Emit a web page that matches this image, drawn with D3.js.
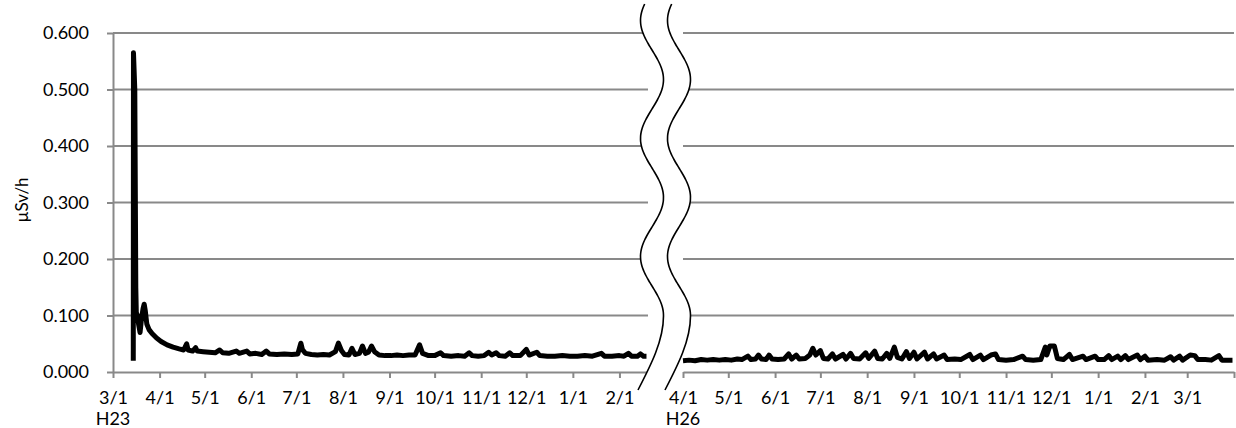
<!DOCTYPE html>
<html>
<head>
<meta charset="utf-8">
<script src="https://cdn.jsdelivr.net/npm/d3@7"></script>
<style>
  body { margin: 0; background: #fff; }
  svg { display: block; font-family: Lato, 'Open Sans', sans-serif; }
</style>
</head>
<body>
<svg id="chart" width="1236" height="428"></svg>
<script>
// ---- data ----
const yTicks = [0, 0.1, 0.2, 0.3, 0.4, 0.5, 0.6];
const yTitle = 'µSv/h';
const eraLabels = ['H23', 'H26'];
const h23Domain = ['2011-03-01', '2012-02-20'];
const h26Domain = ['2014-04-01', '2015-04-01'];

// H23 (2011-03 .. 2012-02), date [+ hour], µSv/h
const h23Series = [
  ['2011-03-14 12', 0.020], ['2011-03-14 15', 0.565], ['2011-03-15 12', 0.500],
  ['2011-03-16 04', 0.150], ['2011-03-16 12', 0.105], ['2011-03-17 06', 0.100],
  ['2011-03-18', 0.085], ['2011-03-19', 0.070], ['2011-03-20', 0.095],
  ['2011-03-21', 0.112], ['2011-03-21 18', 0.120], ['2011-03-22 12', 0.108],
  ['2011-03-23 12', 0.085], ['2011-03-25', 0.075], ['2011-03-27', 0.068],
  ['2011-03-30', 0.060], ['2011-04-02', 0.054], ['2011-04-06', 0.048],
  ['2011-04-10', 0.044], ['2011-04-14', 0.041], ['2011-04-17', 0.039],
  ['2011-04-19', 0.050], ['2011-04-20', 0.039], ['2011-04-23', 0.037],
  ['2011-04-25', 0.043], ['2011-04-26', 0.037], ['2011-04-30', 0.036],
  ['2011-05-04', 0.035], ['2011-05-08', 0.034], ['2011-05-11', 0.039],
  ['2011-05-13', 0.034], ['2011-05-17', 0.033], ['2011-05-22', 0.037],
  ['2011-05-24', 0.033], ['2011-05-29', 0.037], ['2011-05-31', 0.032],
  ['2011-06-04', 0.033], ['2011-06-08', 0.031], ['2011-06-11', 0.037],
  ['2011-06-13', 0.032], ['2011-06-18', 0.031], ['2011-06-23', 0.032],
  ['2011-06-28', 0.031], ['2011-07-02', 0.032], ['2011-07-04', 0.051],
  ['2011-07-05', 0.040], ['2011-07-07', 0.033], ['2011-07-11', 0.031],
  ['2011-07-15', 0.030], ['2011-07-19', 0.031], ['2011-07-23', 0.030],
  ['2011-07-27', 0.036], ['2011-07-29', 0.051], ['2011-07-31', 0.038],
  ['2011-08-02', 0.031], ['2011-08-05', 0.030], ['2011-08-07', 0.042],
  ['2011-08-09', 0.031], ['2011-08-12', 0.033], ['2011-08-14', 0.046],
  ['2011-08-16', 0.033], ['2011-08-18', 0.035], ['2011-08-20', 0.046],
  ['2011-08-22', 0.036], ['2011-08-25', 0.030], ['2011-08-29', 0.029],
  ['2011-09-02', 0.029], ['2011-09-06', 0.030], ['2011-09-10', 0.029],
  ['2011-09-14', 0.030], ['2011-09-18', 0.030], ['2011-09-21', 0.048],
  ['2011-09-23', 0.033], ['2011-09-27', 0.029], ['2011-10-01', 0.029],
  ['2011-10-05', 0.034], ['2011-10-07', 0.029], ['2011-10-12', 0.028],
  ['2011-10-17', 0.029], ['2011-10-21', 0.028], ['2011-10-24', 0.034],
  ['2011-10-26', 0.029], ['2011-10-30', 0.028], ['2011-11-03', 0.029],
  ['2011-11-06', 0.035], ['2011-11-08', 0.030], ['2011-11-11', 0.034],
  ['2011-11-13', 0.029], ['2011-11-17', 0.028], ['2011-11-20', 0.034],
  ['2011-11-22', 0.029], ['2011-11-27', 0.029], ['2011-12-01', 0.040],
  ['2011-12-03', 0.030], ['2011-12-08', 0.035], ['2011-12-10', 0.029],
  ['2011-12-15', 0.028], ['2011-12-20', 0.028], ['2011-12-25', 0.029],
  ['2011-12-30', 0.028], ['2012-01-04', 0.028], ['2012-01-09', 0.029],
  ['2012-01-14', 0.028], ['2012-01-20', 0.033], ['2012-01-22', 0.028],
  ['2012-01-27', 0.028], ['2012-02-01', 0.029], ['2012-02-04', 0.028],
  ['2012-02-07', 0.033], ['2012-02-09', 0.028], ['2012-02-13', 0.028],
  ['2012-02-15', 0.032], ['2012-02-17', 0.028], ['2012-02-19', 0.028]
];

// H26 (2014-04 .. 2015-03)
const h26Series = [
  ['2014-04-01', 0.020], ['2014-04-05', 0.021], ['2014-04-09', 0.020],
  ['2014-04-13', 0.022], ['2014-04-17', 0.021], ['2014-04-21', 0.022],
  ['2014-04-25', 0.021], ['2014-04-29', 0.022], ['2014-05-03', 0.021],
  ['2014-05-07', 0.023], ['2014-05-10', 0.022], ['2014-05-14', 0.028],
  ['2014-05-16', 0.022], ['2014-05-19', 0.023], ['2014-05-21', 0.030],
  ['2014-05-23', 0.023], ['2014-05-26', 0.022], ['2014-05-28', 0.030],
  ['2014-05-30', 0.023], ['2014-06-03', 0.022], ['2014-06-07', 0.023],
  ['2014-06-10', 0.032], ['2014-06-12', 0.023], ['2014-06-15', 0.030],
  ['2014-06-17', 0.023], ['2014-06-21', 0.024], ['2014-06-24', 0.030],
  ['2014-06-26', 0.042], ['2014-06-28', 0.030], ['2014-07-01', 0.038],
  ['2014-07-03', 0.024], ['2014-07-06', 0.023], ['2014-07-09', 0.032],
  ['2014-07-11', 0.023], ['2014-07-16', 0.031], ['2014-07-18', 0.023],
  ['2014-07-21', 0.033], ['2014-07-23', 0.024], ['2014-07-27', 0.023],
  ['2014-07-31', 0.034], ['2014-08-02', 0.024], ['2014-08-06', 0.037],
  ['2014-08-08', 0.024], ['2014-08-11', 0.023], ['2014-08-14', 0.033],
  ['2014-08-16', 0.024], ['2014-08-19', 0.044], ['2014-08-21', 0.026],
  ['2014-08-24', 0.023], ['2014-08-27', 0.036], ['2014-08-29', 0.024],
  ['2014-09-01', 0.035], ['2014-09-03', 0.023], ['2014-09-08', 0.035],
  ['2014-09-10', 0.023], ['2014-09-14', 0.032], ['2014-09-16', 0.023],
  ['2014-09-21', 0.030], ['2014-09-23', 0.022], ['2014-09-28', 0.023],
  ['2014-10-02', 0.022], ['2014-10-08', 0.031], ['2014-10-10', 0.022],
  ['2014-10-15', 0.030], ['2014-10-17', 0.022], ['2014-10-22', 0.030],
  ['2014-10-25', 0.032], ['2014-10-27', 0.022], ['2014-11-01', 0.021],
  ['2014-11-06', 0.022], ['2014-11-12', 0.028], ['2014-11-14', 0.022],
  ['2014-11-19', 0.021], ['2014-11-24', 0.022], ['2014-11-27', 0.044],
  ['2014-11-28', 0.030], ['2014-11-30', 0.046], ['2014-12-03', 0.046],
  ['2014-12-05', 0.024], ['2014-12-09', 0.022], ['2014-12-13', 0.031],
  ['2014-12-15', 0.022], ['2014-12-22', 0.028], ['2014-12-24', 0.022],
  ['2014-12-30', 0.028], ['2015-01-01', 0.022], ['2015-01-05', 0.022],
  ['2015-01-08', 0.029], ['2015-01-10', 0.022], ['2015-01-14', 0.028],
  ['2015-01-16', 0.022], ['2015-01-19', 0.029], ['2015-01-21', 0.022],
  ['2015-01-27', 0.030], ['2015-01-29', 0.022], ['2015-02-01', 0.028],
  ['2015-02-03', 0.021], ['2015-02-09', 0.022], ['2015-02-14', 0.021],
  ['2015-02-18', 0.027], ['2015-02-20', 0.021], ['2015-02-24', 0.028],
  ['2015-02-26', 0.021], ['2015-03-03', 0.030], ['2015-03-06', 0.029],
  ['2015-03-08', 0.022], ['2015-03-13', 0.022], ['2015-03-17', 0.021],
  ['2015-03-22', 0.029], ['2015-03-24', 0.021], ['2015-03-28', 0.021],
  ['2015-03-31', 0.021]
];

// ---- layout ----
const svg = d3.select('#chart');
const gridColor = '#898989';
const fontSize = '18px';
const plotTop = 33, plotBottom = 372;
const leftPanel = [113, 648], rightPanel = [683, 1234];

const parseDay = d3.timeParse('%Y-%m-%d');
const parseHour = d3.timeParse('%Y-%m-%d %H');
function toDate(s) { return s.length > 10 ? parseHour(s) : parseDay(s); }
function toPoints(series) { return series.map(d => ({ date: toDate(d[0]), value: d[1] })); }

const y = d3.scaleLinear().domain([0, 0.6]).range([plotBottom, plotTop]);
const xLeft = d3.scaleTime().domain(h23Domain.map(toDate)).range(leftPanel);
const xRight = d3.scaleTime().domain(h26Domain.map(toDate)).range(rightPanel);

// gridlines per panel
function drawGrid(range) {
  svg.append('g').selectAll('line')
    .data(yTicks.filter(t => t > 0))
    .enter().append('line')
    .attr('x1', range[0]).attr('x2', range[1])
    .attr('y1', d => y(d)).attr('y2', d => y(d))
    .attr('stroke', gridColor).attr('stroke-width', 2);
}
drawGrid(leftPanel);
drawGrid(rightPanel);

// y axis
const yAxis = svg.append('g')
  .attr('transform', `translate(${leftPanel[0]},0)`)
  .call(d3.axisLeft(y).tickValues(yTicks).tickFormat(d3.format('.3f'))
    .tickSize(6).tickSizeOuter(0).tickPadding(18));

// x axes
function monthTicks(scale, dropLast) {
  const [a, b] = scale.domain();
  const ticks = d3.timeMonth.range(a, d3.timeDay.offset(b, 1));
  const fmt = d3.timeFormat('%-m/%-d');
  return d3.axisBottom(scale).tickValues(ticks)
    .tickFormat((d, i) => (dropLast && i === ticks.length - 1) ? '' : fmt(d))
    .tickSize(6).tickSizeOuter(0).tickPadding(13);
}
const xAxisL = svg.append('g').attr('transform', `translate(0,${plotBottom})`).call(monthTicks(xLeft, false));
const xAxisR = svg.append('g').attr('transform', `translate(0,${plotBottom})`).call(monthTicks(xRight, true));

[yAxis, xAxisL, xAxisR].forEach(g => {
  g.attr('font-family', null).attr('font-size', null);
  g.selectAll('path, line').attr('stroke', gridColor).attr('stroke-width', 2);
  g.selectAll('text').attr('fill', '#000').style('font-size', fontSize);
});

// era labels under the first tick of each panel
svg.append('g').selectAll('text')
  .data([xLeft(xLeft.domain()[0]), xRight(xRight.domain()[0])])
  .enter().append('text')
  .attr('x', d => d).attr('y', 425)
  .attr('text-anchor', 'middle').style('font-size', fontSize)
  .text((d, i) => eraLabels[i]);

// y title
svg.append('text')
  .attr('transform', 'translate(28,200) rotate(-90)')
  .attr('text-anchor', 'middle').style('font-size', '17px')
  .text(yTitle);

// the two series
const line = (x) => d3.line().x(d => x(d.date)).y(d => y(d.value));
svg.append('path').datum(toPoints(h23Series))
  .attr('d', line(xLeft)).attr('fill', 'none')
  .attr('stroke', '#000').attr('stroke-width', 5).attr('stroke-linejoin', 'round');
svg.append('path').datum(toPoints(h26Series))
  .attr('d', line(xRight)).attr('fill', 'none')
  .attr('stroke', '#000').attr('stroke-width', 5).attr('stroke-linejoin', 'round');

// axis break: two wavy lines with white between them
const mid = (leftPanel[1] + rightPanel[0]) / 2;
const amp = 11.5, period = 118, gap = 27;
const waveY = d3.range(4, 320, 4);
const wave = waveY.map(v => ({ y: v, x: mid - gap / 2 + amp * Math.sin(2 * Math.PI * (v - 50) / period) }));
wave.push({ y: 390, x: mid - gap / 2 - 14 });
const breakArea = d3.area().curve(d3.curveMonotoneY)
  .y(d => d.y).x0(d => d.x).x1(d => d.x + gap);
svg.append('path').datum(wave).attr('d', breakArea).attr('fill', '#fff');
const breakLine = (off) => d3.line().curve(d3.curveMonotoneY).x(d => d.x + off).y(d => d.y);
[0, gap].forEach(off => {
  svg.append('path').datum(wave).attr('d', breakLine(off))
    .attr('fill', 'none').attr('stroke', '#000').attr('stroke-width', 1.6);
});
</script>
</body>
</html>
